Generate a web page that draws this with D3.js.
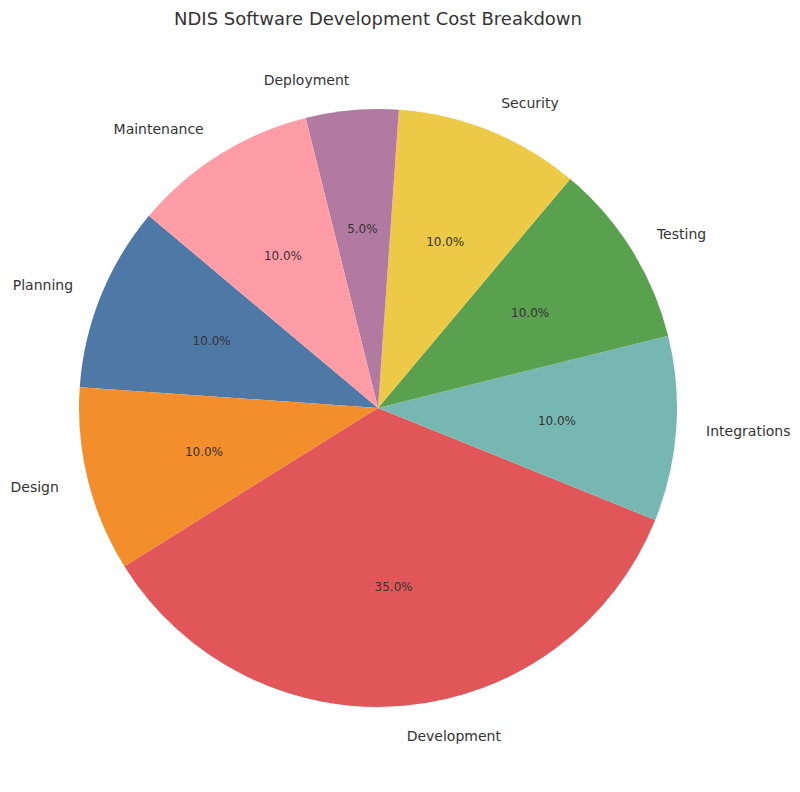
<!DOCTYPE html>
<html><head><meta charset="utf-8">
<script src="https://cdn.jsdelivr.net/npm/d3@7"></script>
<style>body{margin:0;background:#fff}</style></head>
<body><div id="chart"></div>
<script>
const categories = ["Planning","Design","Development","Integrations","Testing","Security","Deployment","Maintenance"];
const values = [10,10,35,10,10,10,5,10];
const colors = ["#4e79a7","#f28e2b","#e15759","#76b7b2","#59a14f","#edc948","#b07aa1","#ff9da7"];

const width = 800, height = 792, cx = 378, cy = 408, r = 299;
const svg = d3.select("#chart").append("svg").attr("width", width).attr("height", height)
  .style("font-family", "DejaVu Sans");

svg.append("text").attr("x", 378).attr("y", 25).attr("text-anchor", "middle")
  .style("font-size", "18px").attr("fill", "#333").text("NDIS Software Development Cost Breakdown");

// matplotlib startangle 140, counterclockwise
const start = (90 - 140) * Math.PI / 180;
const pie = d3.pie().sort(null).startAngle(start).endAngle(start - 2 * Math.PI);
const arcs = pie(values);
const arc = d3.arc().innerRadius(0).outerRadius(r);
const total = d3.sum(values);

const g = svg.append("g").attr("transform", `translate(${cx},${cy})`);
g.selectAll("path").data(arcs).enter().append("path")
  .attr("d", arc).attr("fill", (d, i) => colors[i]);

const pos = (d, k) => {
  const a = (d.startAngle + d.endAngle) / 2;
  return [Math.sin(a) * r * k, -Math.cos(a) * r * k];
};
g.selectAll(".lbl").data(arcs).enter().append("text")
  .attr("x", d => pos(d, 1.1)[0]).attr("y", d => pos(d, 1.1)[1])
  .attr("dy", "0.35em")
  .attr("text-anchor", d => pos(d, 1.1)[0] > 0 ? "start" : "end")
  .style("font-size", "14px").attr("fill", "#333")
  .text((d, i) => categories[i]);
g.selectAll(".pct").data(arcs).enter().append("text")
  .attr("x", d => pos(d, 0.6)[0]).attr("y", d => pos(d, 0.6)[1])
  .attr("dy", "0.35em").attr("text-anchor", "middle")
  .style("font-size", "12px").attr("fill", "#333")
  .text(d => (d.value / total * 100).toFixed(1) + "%");
</script></body></html>
